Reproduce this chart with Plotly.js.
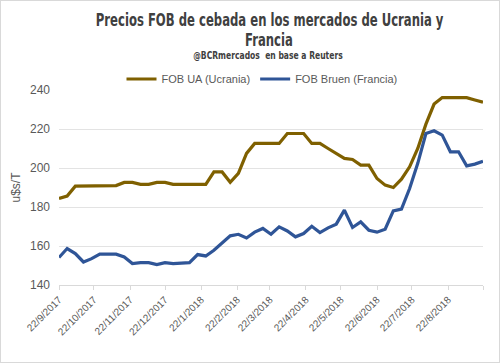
<!DOCTYPE html>
<html>
<head>
<meta charset="utf-8">
<script src="https://cdn.plot.ly/plotly-3.0.1.min.js"></script>
<style>
html,body{margin:0;padding:0;background:#fff;}
#wrap{position:relative;width:500px;height:363px;}
#chart{width:500px;height:363px;}
#frame{position:absolute;left:0;top:0;width:500px;height:363px;box-sizing:border-box;border:1px solid #d9d9d9;pointer-events:none;}
</style>
</head>
<body>
<div id="wrap"><div id="chart"></div><div id="frame"></div></div>
<script>
// Weekly data starting 22/9/2017
const startDate = '2017-09-22';
const nWeeks = 53;
const fobUcrania = [184.4,185.6,190.7,190.7,190.7,190.7,190.7,191.0,192.6,192.6,
  191.6,191.6,192.6,192.6,191.6,191.6,191.6,191.6,191.6,198.0,
  198.0,192.7,197.2,207.5,212.6,212.6,212.6,212.6,217.7,217.7,
  217.7,212.6,212.6,210.0,207.5,204.9,204.4,201.5,201.5,194.6,
  191.2,190.0,194.3,200.6,210.0,222.5,232.8,236.1,236.1,236.1,
  236.1,234.9,233.7];
const fobFrancia = [154.1,158.7,156.1,151.8,153.5,155.9,155.8,155.8,154.4,151.0,
  151.5,151.5,150.5,151.5,151.0,151.2,151.5,155.6,154.9,157.8,
  161.6,165.2,166.0,164.1,167.1,169.0,166.0,169.8,167.7,164.7,
  166.4,170.1,166.9,169.3,171.2,178.4,169.5,172.4,168.1,167.1,
  168.6,178.0,178.9,189.5,202.4,217.7,219.1,216.9,208.3,208.3,
  201.1,202.0,203.5];
const tickDates = ['2017-09-22','2017-10-22','2017-11-22','2017-12-22','2018-01-22','2018-02-22',
  '2018-03-22','2018-04-22','2018-05-22','2018-06-22','2018-07-22','2018-08-22','2018-09-21'];
const tickLabels = ['22/9/2017','22/10/2017','22/11/2017','22/12/2017','22/1/2018','22/2/2018',
  '22/3/2018','22/4/2018','22/5/2018','22/6/2018','22/7/2018','22/8/2018',''];
const seriesNames = ['FOB UA (Ucrania)','FOB Bruen (Francia)'];
const titleLines = ['Precios FOB de cebada en los mercados de Ucrania y','Francia'];
const subtitle = '@BCRmercados  en base a Reuters';
const yTitle = 'u$s/T';

function weekDates(start, n){
  const out=[]; const d0=new Date(start+'T00:00:00Z');
  for(let i=0;i<n;i++){const d=new Date(d0.getTime()+i*7*86400000);out.push(d.toISOString().slice(0,10));}
  return out;
}
const dates = weekDates(startDate, nWeeks);

// pixel -> paper helpers (plot area: x 59..483, y 90..285)
const px = x => (x-59)/424;
const py = y => 1+(90-y)/195;

const titleFont = {family:'DejaVu Sans, sans-serif',size:17,color:'#404040',weight:'bold'};
const traces = [
  {x:dates,y:fobUcrania,name:seriesNames[0],type:'scatter',mode:'lines',line:{color:'#7f6000',width:3.2}},
  {x:dates,y:fobFrancia,name:seriesNames[1],type:'scatter',mode:'lines',line:{color:'#2f5597',width:3.2}}
];
const layout = {
  width:500,height:363,
  margin:{l:59,r:17,t:90,b:78},
  paper_bgcolor:'#fff',plot_bgcolor:'#fff',
  font:{family:'Liberation Sans, Arial, sans-serif',color:'#595959'},
  annotations:[
    {text:titleLines[0],xref:'paper',yref:'paper',x:px(269),y:py(20),xanchor:'center',yanchor:'middle',showarrow:false,font:titleFont},
    {text:titleLines[1],xref:'paper',yref:'paper',x:px(269),y:py(40),xanchor:'center',yanchor:'middle',showarrow:false,font:titleFont},
    {text:subtitle,xref:'paper',yref:'paper',x:px(268),y:py(56),xanchor:'center',yanchor:'middle',showarrow:false,
      font:{family:'DejaVu Sans, sans-serif',size:11,color:'#404040',weight:'bold'}}
  ],
  showlegend:true,
  legend:{orientation:'h',x:px(262),xanchor:'center',y:py(79),yanchor:'middle',
    font:{size:11,color:'#595959'},bgcolor:'rgba(0,0,0,0)',itemwidth:30},
  xaxis:{type:'date',range:[dates[0],dates[dates.length-1]],tickvals:tickDates,ticktext:tickLabels,
    tickangle:-45,tickfont:{size:10,color:'#595959'},showgrid:false,showline:true,linecolor:'#d9d9d9',linewidth:1,
    ticks:'outside',ticklen:4,tickcolor:'#d9d9d9',zeroline:false,fixedrange:true},
  yaxis:{range:[140,240],dtick:20,tick0:140,showgrid:true,gridcolor:'#e3e3e3',gridwidth:1,showline:false,zeroline:false,
    tickfont:{size:12,color:'#595959'},ticks:'',ticklabelstandoff:8,
    title:{text:yTitle,font:{size:12,color:'#595959'},standoff:6}}
};
function condense(){
  const groups = document.querySelectorAll('#chart .annotation');
  const targets = [348, null, 150];
  let s0 = 1;
  groups.forEach((g,i)=>{
    const t = g.querySelector('text.annotation-text');
    if(!t) return;
    const bb = t.getBBox();
    let s = 1;
    if(i===0){ s = Math.min(1, targets[0]/bb.width); s0 = s; }
    else if(i===1){ s = s0; }
    else if(i===2){ s = Math.min(1, targets[2]/bb.width); }
    const cx = bb.x + bb.width/2;
    t.setAttribute('transform', 'translate('+cx+' 0) scale('+s+' 1) translate('+(-cx)+' 0)');
  });
}
Plotly.newPlot('chart',traces,layout,{displayModeBar:false,staticPlot:true}).then(condense);
</script>
</body>
</html>
